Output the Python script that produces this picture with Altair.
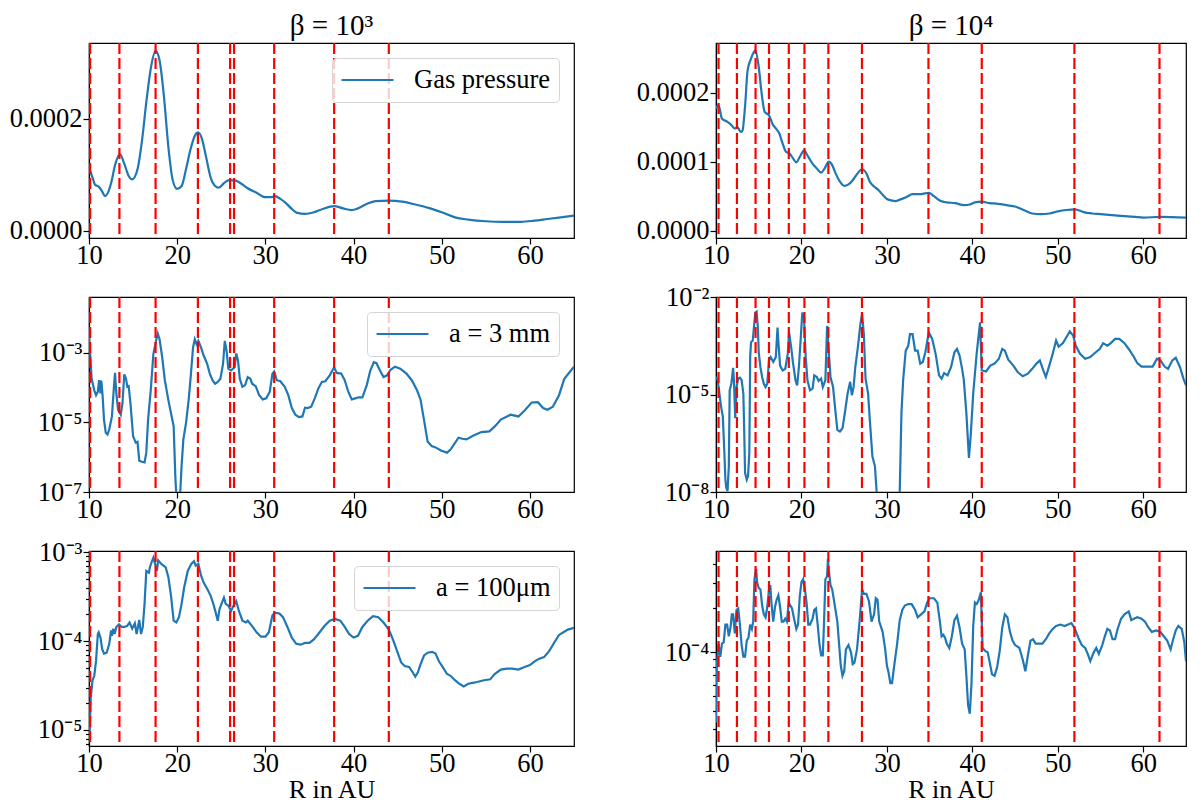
import altair as alt
import pandas as pd

BLUE = "#1f77b4"
FONT = "Liberation Serif"

# vertical dashed lines (R in AU)
VL_LEFT = [10.13, 13.45, 17.55, 22.35, 26.0, 26.45, 31.0, 37.8, 44.0]
VL_RIGHT = [10.3, 12.45, 14.63, 16.2, 18.52, 20.35, 23.15, 27.08, 34.86, 41.1, 51.94, 61.9]

X_TICKS = [10, 20, 30, 40, 50, 60]

# Gas pressure, beta=1e3  (R, P in units of 1e-4)
GAS_B3 = [(10.0, 1.13), (10.4, 0.95), (10.7, 0.82), (11.1, 0.79), (11.5, 0.70), (11.8, 0.62),
          (12.2, 0.70), (12.5, 0.85), (13.0, 1.20), (13.5, 1.37), (14.0, 1.20), (14.5, 0.98),
          (14.9, 0.92), (15.5, 1.10), (16.0, 1.60), (16.5, 2.30), (17.0, 2.90), (17.55, 3.22),
          (18.0, 3.05), (18.5, 2.40), (19.0, 1.50), (19.5, 0.90), (20.0, 0.75), (20.5, 0.80),
          (21.0, 1.10), (21.5, 1.45), (22.0, 1.70), (22.35, 1.76), (22.8, 1.65), (23.3, 1.30),
          (23.8, 0.95), (24.3, 0.80), (24.7, 0.77), (25.3, 0.85), (25.8, 0.90), (26.5, 0.90),
          (27.2, 0.85), (27.9, 0.77), (29.0, 0.68), (30.0, 0.60), (30.6, 0.60), (31.1, 0.62),
          (31.7, 0.57), (32.3, 0.50), (33.0, 0.39), (33.6, 0.32), (34.5, 0.30), (35.5, 0.33),
          (36.5, 0.39), (37.8, 0.44), (38.8, 0.40), (39.8, 0.37), (40.5, 0.40), (41.5, 0.48),
          (42.5, 0.53), (44.0, 0.54), (45.5, 0.52), (47.0, 0.47), (48.5, 0.41), (50.0, 0.33),
          (51.5, 0.24), (53.0, 0.20), (55.0, 0.17), (57.0, 0.16), (59.0, 0.16), (60.5, 0.18),
          (62.0, 0.21), (63.5, 0.24), (65.0, 0.27)]

# Gas pressure, beta=1e4  (R, P in units of 1e-4)
GAS_B4 = [(10.0, 1.77), (10.3, 1.82), (10.7, 1.62), (11.3, 1.58), (11.8, 1.53), (12.2, 1.48),
          (12.5, 1.50), (12.9, 1.43), (13.1, 1.45), (13.4, 1.80), (13.7, 2.32), (14.1, 2.49),
          (14.6, 2.61), (15.0, 2.37), (15.3, 2.03), (15.7, 1.72), (16.2, 1.67), (16.6, 1.55),
          (17.0, 1.48), (17.4, 1.41), (17.8, 1.26), (18.2, 1.14), (18.6, 1.12), (19.0, 1.05),
          (19.4, 0.99), (19.8, 1.07), (20.3, 1.16), (20.8, 1.07), (21.3, 0.97), (21.8, 0.90),
          (22.3, 0.84), (22.7, 0.90), (23.2, 1.00), (23.6, 0.95), (24.0, 0.83), (24.5, 0.71),
          (25.0, 0.65), (25.5, 0.67), (26.0, 0.73), (26.5, 0.82), (27.1, 0.89), (27.6, 0.83),
          (28.0, 0.71), (28.5, 0.64), (29.0, 0.59), (29.5, 0.52), (30.0, 0.46), (30.5, 0.44),
          (31.0, 0.43), (31.5, 0.45), (32.3, 0.49), (33.0, 0.53), (34.0, 0.53), (34.9, 0.55),
          (35.5, 0.50), (36.3, 0.43), (37.0, 0.41), (38.0, 0.40), (39.0, 0.37), (39.7, 0.38),
          (40.3, 0.41), (41.1, 0.42), (42.0, 0.40), (43.0, 0.39), (44.0, 0.37), (45.0, 0.35),
          (46.0, 0.30), (47.0, 0.25), (48.0, 0.24), (49.0, 0.25), (50.0, 0.28), (51.0, 0.30),
          (52.0, 0.31), (53.0, 0.27), (54.0, 0.25), (55.0, 0.24), (57.0, 0.22), (59.0, 0.20),
          (60.0, 0.19), (62.0, 0.20), (65.0, 0.19)]

# a = 3 mm, beta=1e3  (R, log10 value)
MM3_B3 = [(10.0, -2.47), (10.1, -2.9), (10.3, -3.75), (10.6, -4.08), (10.8, -4.22), (11.0, -4.12),
          (11.15, -3.79), (11.3, -4.17), (11.4, -3.8), (11.55, -4.26), (11.7, -4.92), (11.9, -5.30),
          (12.1, -5.35), (12.3, -5.2), (12.6, -4.83), (12.8, -4.08), (12.95, -3.58), (13.1, -4.17),
          (13.3, -4.64), (13.6, -4.78), (13.8, -4.45), (14.0, -3.62), (14.2, -3.75), (14.35, -3.98),
          (14.5, -3.96), (14.7, -4.45), (15.0, -5.40), (15.3, -5.58), (15.5, -5.56), (15.7, -6.10),
          (16.0, -6.13), (16.3, -6.15), (16.5, -5.87), (16.7, -4.92), (17.0, -4.08), (17.3, -3.04),
          (17.6, -2.66), (17.8, -2.45), (18.0, -2.61), (18.3, -3.13), (18.6, -3.79), (19.0, -4.36),
          (19.3, -4.74), (19.6, -5.11), (19.7, -5.87), (19.8, -6.62), (19.95, -7.3), (20.2, -7.4),
          (20.35, -7.0), (20.5, -6.25), (20.7, -5.49), (21.0, -5.02), (21.3, -4.36), (21.5, -3.79),
          (21.8, -2.85), (22.0, -2.61), (22.2, -2.75), (22.4, -2.66), (22.7, -2.85), (23.0, -3.08),
          (23.4, -3.32), (23.7, -3.60), (24.0, -3.79), (24.3, -3.89), (24.6, -3.84), (24.9, -3.75),
          (25.2, -3.32), (25.4, -2.66), (25.6, -2.94), (25.8, -3.46), (26.1, -3.51), (26.5, -3.42),
          (26.7, -3.02), (26.9, -3.23), (27.1, -3.75), (27.4, -3.98), (27.7, -3.93), (28.0, -3.70),
          (28.3, -3.75), (28.5, -3.89), (28.9, -3.96), (29.3, -4.22), (29.7, -4.34), (30.1, -4.31),
          (30.5, -4.12), (30.8, -3.60), (31.0, -3.54), (31.3, -3.79), (31.7, -3.82), (32.2, -3.98),
          (32.6, -4.22), (33.0, -4.59), (33.4, -4.78), (33.8, -4.85), (34.2, -4.83), (34.5, -4.58),
          (34.8, -4.59), (35.2, -4.55), (35.6, -4.31), (36.0, -4.03), (36.4, -3.84), (36.8, -3.82),
          (37.3, -3.65), (37.8, -3.42), (38.1, -3.58), (38.6, -3.60), (39.0, -3.79), (39.4, -4.12),
          (39.8, -4.34), (40.2, -4.31), (40.6, -4.28), (41.0, -4.28), (41.5, -3.93), (41.9, -3.51),
          (42.3, -3.27), (42.6, -3.30), (43.0, -3.51), (43.4, -3.70), (43.8, -3.65), (44.2, -3.49),
          (44.7, -3.40), (45.3, -3.46), (46.0, -3.60), (46.6, -3.79), (47.2, -4.08), (47.6, -4.35),
          (47.95, -4.87), (48.4, -5.55), (48.85, -5.68), (49.3, -5.72), (49.9, -5.81), (50.6, -5.87),
          (51.0, -5.78), (51.9, -5.44), (52.35, -5.47), (52.8, -5.49), (53.6, -5.38), (54.5, -5.28),
          (55.4, -5.26), (56.05, -5.11), (56.7, -4.92), (57.8, -4.78), (58.7, -4.83), (59.4, -4.66),
          (60.2, -4.43), (60.9, -4.42), (61.5, -4.59), (62.0, -4.64), (62.6, -4.55), (63.3, -4.22),
          (63.9, -3.75), (65.0, -3.40)]

# a = 3 mm, beta=1e4  (R, log10 value)
MM3_B4 = [(10.0, -4.46), (10.2, -4.56), (10.4, -4.97), (10.6, -5.38), (10.8, -5.68), (10.95, -6.60),
          (11.1, -7.62), (11.2, -7.87), (11.35, -7.97), (11.5, -7.21), (11.6, -4.87), (11.8, -4.67),
          (12.0, -4.18), (12.1, -4.56), (12.25, -5.73), (12.4, -4.77), (12.6, -4.51), (12.8, -4.48),
          (13.0, -4.56), (13.2, -4.97), (13.3, -6.09), (13.4, -7.41), (13.6, -7.62), (13.75, -7.51),
          (13.9, -6.80), (14.0, -3.85), (14.1, -3.39), (14.3, -3.34), (14.4, -3.04), (14.6, -2.48),
          (14.75, -2.45), (14.9, -2.94), (15.0, -3.70), (15.2, -4.16), (15.4, -4.46), (15.6, -4.67),
          (15.8, -4.77), (16.0, -4.67), (16.2, -3.95), (16.4, -3.85), (16.7, -4.00), (17.0, -3.85),
          (17.2, -2.94), (17.3, -3.39), (17.5, -4.11), (17.8, -4.26), (18.1, -4.21), (18.4, -3.75),
          (18.55, -3.09), (18.8, -3.55), (19.0, -4.00), (19.3, -4.56), (19.5, -4.72), (19.7, -4.16),
          (19.9, -3.34), (20.1, -2.48), (20.3, -2.63), (20.5, -3.85), (20.7, -4.56), (21.0, -4.87),
          (21.3, -4.82), (21.5, -4.41), (21.8, -4.46), (22.0, -4.58), (22.3, -4.51), (22.5, -4.77),
          (22.8, -4.56), (23.0, -2.89), (23.2, -3.70), (23.4, -4.46), (23.7, -4.77), (24.0, -5.58),
          (24.2, -6.09), (24.5, -6.14), (24.8, -6.04), (25.1, -5.53), (25.4, -4.97), (25.7, -4.61),
          (25.9, -5.02), (26.1, -4.77), (26.3, -4.16), (26.6, -3.55), (26.9, -2.83), (27.1, -2.53),
          (27.3, -3.14), (27.5, -4.51), (27.8, -4.97), (28.0, -5.78), (28.3, -6.90), (28.6, -7.21),
          (28.8, -8.0), (29.2, -9.0), (30.0, -10.0), (31.0, -9.5), (31.5, -8.0), (31.7, -5.58),
          (31.9, -4.56), (32.2, -3.65), (32.5, -3.50), (32.7, -3.14), (33.0, -3.14), (33.3, -3.65),
          (33.6, -3.65), (33.9, -4.05), (34.2, -4.00), (34.5, -3.70), (34.9, -3.09), (35.3, -3.29),
          (35.7, -3.75), (36.1, -4.41), (36.4, -4.51), (36.7, -4.34), (37.1, -4.41), (37.5, -4.16),
          (37.9, -3.70), (38.2, -3.60), (38.5, -3.80), (38.8, -4.21), (39.0, -4.56), (39.3, -5.58),
          (39.6, -6.95), (39.8, -6.29), (40.1, -4.97), (40.5, -3.75), (40.9, -2.78), (41.1, -4.26),
          (41.6, -4.29), (42.1, -4.11), (42.6, -4.05), (43.1, -3.90), (43.5, -3.60), (43.8, -3.65),
          (44.2, -3.93), (44.8, -4.11), (45.3, -4.31), (45.9, -4.44), (46.5, -4.36), (47.0, -4.21),
          (47.5, -4.05), (47.9, -3.95), (48.3, -4.26), (48.6, -4.46), (49.0, -4.11), (49.4, -3.75),
          (49.8, -3.34), (50.1, -3.53), (50.6, -3.42), (51.0, -3.24), (51.4, -3.06), (51.8, -3.19),
          (52.1, -3.50), (52.6, -3.75), (53.2, -3.90), (53.8, -3.85), (54.3, -3.73), (54.9, -3.60),
          (55.3, -3.42), (55.8, -3.50), (56.2, -3.42), (56.7, -3.29), (57.2, -3.29), (57.8, -3.42),
          (58.3, -3.60), (58.8, -3.80), (59.3, -4.03), (59.8, -4.14), (60.4, -4.14), (61.1, -4.14),
          (61.6, -3.90), (62.0, -3.95), (62.5, -4.14), (62.9, -4.21), (63.4, -3.95), (63.8, -3.87),
          (64.3, -4.16), (64.7, -4.51), (65.0, -4.72)]

# a = 100 um, beta=1e3  (R, log10 value)
UM100_B3 = [(10.05, -5.12), (10.2, -4.63), (10.4, -4.44), (10.6, -4.39), (10.8, -4.22), (11.0, -3.92),
            (11.1, -3.90), (11.3, -3.96), (11.5, -4.09), (11.7, -4.14), (12.0, -4.13), (12.3, -4.03),
            (12.5, -3.88), (12.6, -3.94), (12.75, -3.86), (12.9, -3.92), (13.1, -3.84), (13.4, -3.81),
            (13.7, -3.84), (14.0, -3.84), (14.3, -3.83), (14.6, -3.79), (14.9, -3.86), (15.2, -3.80),
            (15.4, -3.92), (15.7, -3.76), (15.9, -3.92), (16.1, -3.84), (16.3, -3.58), (16.5, -3.21),
            (16.8, -3.23), (16.9, -3.17), (17.1, -3.11), (17.3, -3.06), (17.5, -3.13), (17.7, -3.21),
            (17.85, -3.09), (18.2, -3.13), (18.7, -3.17), (19.0, -3.28), (19.3, -3.49), (19.6, -3.77),
            (19.9, -3.79), (20.2, -3.73), (20.5, -3.58), (20.8, -3.39), (21.2, -3.21), (21.6, -3.13),
            (21.9, -3.10), (22.1, -3.15), (22.4, -3.13), (22.7, -3.26), (23.0, -3.34), (23.4, -3.41),
            (23.8, -3.49), (24.1, -3.58), (24.4, -3.69), (24.6, -3.77), (24.8, -3.64), (25.1, -3.56),
            (25.3, -3.51), (25.5, -3.58), (25.8, -3.60), (26.1, -3.66), (26.4, -3.60), (26.7, -3.55),
            (27.0, -3.66), (27.4, -3.77), (27.8, -3.79), (28.0, -3.77), (28.5, -3.83), (29.0, -3.90),
            (29.5, -3.95), (30.0, -3.95), (30.4, -3.90), (30.8, -3.71), (31.1, -3.68), (31.6, -3.69),
            (32.0, -3.73), (32.5, -3.84), (33.0, -3.96), (33.5, -4.03), (34.0, -4.04), (34.5, -4.02),
            (35.0, -4.02), (35.5, -3.98), (36.0, -3.92), (36.7, -3.83), (37.3, -3.77), (37.9, -3.75),
            (38.5, -3.77), (39.0, -3.84), (39.5, -3.92), (40.0, -3.96), (40.5, -3.94), (41.0, -3.84),
            (41.6, -3.77), (42.2, -3.72), (42.8, -3.73), (43.4, -3.79), (44.0, -3.87), (44.5, -3.99),
            (45.0, -4.13), (45.4, -4.24), (45.8, -4.28), (46.3, -4.29), (46.7, -4.35), (47.0, -4.40),
            (47.3, -4.35), (47.6, -4.26), (48.0, -4.16), (48.4, -4.13), (48.9, -4.12), (49.3, -4.14),
            (49.7, -4.23), (50.1, -4.29), (50.6, -4.37), (51.0, -4.39), (51.5, -4.44), (52.0, -4.48),
            (52.5, -4.51), (53.0, -4.48), (53.5, -4.47), (54.0, -4.46), (54.8, -4.44), (55.5, -4.43),
            (56.0, -4.37), (56.7, -4.32), (57.4, -4.31), (58.0, -4.31), (58.7, -4.32), (59.4, -4.29),
            (60.0, -4.27), (60.5, -4.23), (61.0, -4.20), (61.6, -4.18), (62.2, -4.11), (62.8, -4.01),
            (63.3, -3.93), (63.8, -3.90), (64.3, -3.87), (65.0, -3.85)]

# a = 100 um, beta=1e4  (R, log10 value)
UM100_B4 = [(10.0, -4.48), (10.1, -4.09), (10.3, -3.94), (10.5, -4.03), (10.7, -3.94), (10.9, -3.93),
            (11.1, -3.81), (11.3, -3.81), (11.5, -3.89), (11.7, -3.83), (11.85, -3.74), (12.0, -3.74),
            (12.2, -3.87), (12.4, -3.71), (12.6, -3.70), (12.8, -3.81), (13.0, -3.95), (13.2, -4.03),
            (13.4, -4.03), (13.6, -3.92), (13.8, -3.90), (14.0, -3.81), (14.2, -3.84), (14.35, -3.79),
            (14.5, -3.50), (14.7, -3.43), (14.8, -3.52), (15.0, -3.56), (15.2, -3.57), (15.4, -3.68),
            (15.6, -3.74), (15.8, -3.76), (16.0, -3.69), (16.2, -3.57), (16.35, -3.54), (16.5, -3.67),
            (16.7, -3.79), (16.9, -3.69), (17.1, -3.64), (17.3, -3.61), (17.5, -3.69), (17.7, -3.79),
            (17.9, -3.79), (18.1, -3.77), (18.3, -3.79), (18.5, -3.66), (18.7, -3.68), (18.9, -3.70),
            (19.1, -3.76), (19.4, -3.84), (19.6, -3.81), (19.8, -3.62), (20.0, -3.52), (20.2, -3.50),
            (20.4, -3.57), (20.6, -3.66), (20.8, -3.81), (21.0, -3.81), (21.3, -3.77), (21.5, -3.71),
            (21.7, -3.70), (21.9, -3.81), (22.1, -3.94), (22.3, -4.02), (22.5, -4.02), (22.65, -3.78),
            (22.8, -3.50), (23.0, -3.48), (23.1, -3.36), (23.2, -3.44), (23.4, -3.54), (23.6, -3.57),
            (23.9, -3.68), (24.2, -3.79), (24.4, -3.94), (24.6, -4.09), (24.8, -4.16), (25.0, -4.13),
            (25.2, -3.98), (25.5, -3.95), (25.8, -4.00), (26.0, -4.08), (26.2, -4.07), (26.5, -3.98),
            (26.8, -3.79), (27.1, -3.57), (27.3, -3.60), (27.6, -3.60), (27.9, -3.65), (28.2, -3.79),
            (28.5, -3.74), (28.7, -3.63), (28.9, -3.64), (29.1, -3.79), (29.5, -3.86), (29.8, -3.98),
            (30.0, -4.09), (30.2, -4.14), (30.4, -4.21), (30.6, -4.21), (30.9, -4.07), (31.2, -3.94),
            (31.5, -3.78), (31.8, -3.71), (32.1, -3.68), (32.5, -3.67), (32.9, -3.67), (33.3, -3.71),
            (33.6, -3.76), (34.0, -3.74), (34.4, -3.72), (34.7, -3.66), (35.0, -3.63), (35.5, -3.63),
            (35.9, -3.66), (36.2, -3.79), (36.4, -3.89), (36.6, -3.88), (36.8, -3.90), (37.0, -3.94),
            (37.3, -3.97), (37.6, -3.89), (37.9, -3.78), (38.2, -3.75), (38.5, -3.83), (38.8, -3.94),
            (39.1, -3.98), (39.3, -4.16), (39.5, -4.36), (39.7, -4.42), (39.9, -4.21), (40.1, -3.82),
            (40.3, -3.66), (40.5, -3.67), (40.7, -3.65), (41.0, -3.59), (41.2, -3.97), (41.5, -3.99),
            (41.8, -4.00), (42.0, -4.06), (42.3, -4.15), (42.6, -4.16), (42.9, -4.10), (43.2, -3.99),
            (43.5, -3.83), (43.8, -3.74), (44.1, -3.76), (44.4, -3.86), (44.7, -3.92), (45.0, -3.95),
            (45.5, -3.97), (45.9, -4.05), (46.2, -4.13), (46.5, -4.02), (46.8, -3.92), (47.1, -3.91),
            (47.4, -3.94), (47.8, -3.94), (48.2, -3.94), (48.6, -3.91), (49.0, -3.87), (49.4, -3.84),
            (49.8, -3.82), (50.3, -3.81), (50.8, -3.82), (51.2, -3.81), (51.6, -3.80), (52.0, -3.84),
            (52.4, -3.90), (52.8, -3.95), (53.2, -3.97), (53.5, -4.01), (53.8, -4.06), (54.2, -4.00),
            (54.5, -3.97), (54.8, -4.01), (55.2, -3.95), (55.5, -3.89), (55.8, -3.84), (56.1, -3.85),
            (56.4, -3.91), (56.7, -3.91), (57.0, -3.84), (57.4, -3.77), (57.8, -3.74), (58.3, -3.72),
            (58.6, -3.78), (58.9, -3.77), (59.3, -3.76), (59.8, -3.77), (60.2, -3.79), (60.6, -3.83),
            (61.0, -3.86), (61.5, -3.85), (62.0, -3.86), (62.4, -3.89), (62.8, -3.92), (63.2, -3.98),
            (63.5, -3.91), (63.8, -3.85), (64.1, -3.82), (64.5, -3.84), (64.8, -3.93), (65.0, -4.06)]

# axis tick values
LIN_TICKS_B3 = [0.0, 0.0002]
LIN_TICKS_B4 = [0.0, 0.0001, 0.0002]
LOG_TICKS_MM3_B3 = [1e-7, 1e-5, 1e-3]
LOG_TICKS_MM3_B4 = [1e-8, 1e-5, 1e-2]
LOG_MAJOR_UM_B3 = [1e-5, 1e-4, 1e-3]
LOG_TICKS_UM_B3 = [7e-6, 8e-6, 9e-6, 1e-5, 2e-5, 3e-5, 4e-5, 5e-5, 6e-5, 7e-5, 8e-5, 9e-5,
                   1e-4, 2e-4, 3e-4, 4e-4, 5e-4, 6e-4, 7e-4, 8e-4, 9e-4, 1e-3]
LOG_MAJOR_UM_B4 = [1e-4]
LOG_TICKS_UM_B4 = [3e-5, 4e-5, 5e-5, 6e-5, 7e-5, 8e-5, 9e-5, 1e-4, 2e-4, 3e-4, 4e-4]

SUP = "['⁰','¹','²','³','⁴','⁵','⁶','⁷','⁸','⁹']"
LABEL_SIZE = 26.5
PANEL_H = 195


def arr(vals):
    return "[" + ",".join(repr(v) for v in vals) + "]"


def log_label_expr(majors):
    return (f"indexof({arr(majors)}, datum.value) >= 0 ? "
            f"'10⁻' + {SUP}[round(-log(datum.value)/LN10)] : ''")


def make_df(pairs, log=False, unit=1.0, label="s"):
    xs = [p[0] for p in pairs]
    if log:
        ys = [10 ** p[1] for p in pairs]
    else:
        ys = [p[1] * unit for p in pairs]
    return pd.DataFrame({"x": xs, "y": ys, "s": label})


def panel(df, vlines, width, ydomain, yaxis, ylog=False, legend_label=None,
          title=None, xtitle=None, interp="linear"):
    xscale = alt.Scale(domain=[10, 65], nice=False, zero=False)
    if ylog:
        yscale = alt.Scale(type="log", domain=ydomain, nice=False)
    else:
        yscale = alt.Scale(domain=ydomain, nice=False, zero=False)
    if xtitle:
        xaxis = alt.Axis(values=X_TICKS, title=xtitle, format="d", labelPadding=-2, titlePadding=0)
    else:
        xaxis = alt.Axis(values=X_TICKS, title=None, format="d", labelPadding=-2)
    enc = dict(
        x=alt.X("x:Q", scale=xscale, axis=xaxis),
        y=alt.Y("y:Q", scale=yscale, axis=yaxis),
    )
    line = alt.Chart(df).mark_line(clip=True, strokeWidth=2.2, interpolate=interp, color=BLUE)
    if legend_label:
        enc["color"] = alt.Color(
            "s:N",
            scale=alt.Scale(domain=[legend_label], range=[BLUE]),
            legend=alt.Legend(title=None, orient="top-right"),
        )
    line = line.encode(**enc)
    rules = alt.Chart(pd.DataFrame({"x": vlines})).mark_rule(
        color="#ff0000", strokeDash=[11, 4], strokeWidth=2.2
    ).encode(x=alt.X("x:Q", scale=xscale, axis=xaxis))
    props = dict(width=width, height=PANEL_H)
    if title:
        props["title"] = alt.TitleParams(text=title, font=FONT, fontSize=29,
                                         fontWeight="normal", anchor="middle",
                                         offset=1, color="black")
    return alt.layer(line, rules).properties(**props)


WL, WR = 485, 470

pA = panel(make_df(GAS_B3, unit=1e-4, label="Gas pressure"), VL_LEFT, WL,
           [-0.000013, 0.000336],
           alt.Axis(values=LIN_TICKS_B3, format=".4f", title=None, labelOverlap=False),
           legend_label="Gas pressure", title="β = 10³", interp="monotone")
pB = panel(make_df(GAS_B4, unit=1e-4), VL_RIGHT, WR,
           [-0.0000105, 0.0002717],
           alt.Axis(values=LIN_TICKS_B4, format=".4f", title=None, labelOverlap=False),
           title="β = 10⁴", interp="monotone")
pC = panel(make_df(MM3_B3, log=True, label="a = 3 mm"), VL_LEFT, WL,
           [1e-7, 0.0398],
           alt.Axis(values=LOG_TICKS_MM3_B3, title=None, labelOverlap=False,
                    labelExpr=log_label_expr(LOG_TICKS_MM3_B3)),
           ylog=True, legend_label="a = 3 mm")
pD = panel(make_df(MM3_B4, log=True), VL_RIGHT, WR,
           [1e-8, 1e-2],
           alt.Axis(values=LOG_TICKS_MM3_B4, title=None, labelOverlap=False,
                    labelExpr=log_label_expr(LOG_TICKS_MM3_B4)),
           ylog=True)
pE = panel(make_df(UM100_B3, log=True, label="a = 100μm"), VL_LEFT, WL,
           [6.6e-6, 1.035e-3],
           alt.Axis(values=LOG_TICKS_UM_B3, title=None, labelOverlap=False,
                    labelExpr=log_label_expr(LOG_MAJOR_UM_B3),
                    tickSize={"condition": {"test": f"indexof({arr(LOG_MAJOR_UM_B3)}, datum.value) >= 0",
                                            "value": 6}, "value": 3.5}),
           ylog=True, legend_label="a = 100μm", xtitle="R in AU")
pF = panel(make_df(UM100_B4, log=True), VL_RIGHT, WR,
           [2.29e-5, 4.93e-4],
           alt.Axis(values=LOG_TICKS_UM_B4, title=None, labelOverlap=False,
                    labelExpr=log_label_expr(LOG_MAJOR_UM_B4),
                    tickSize={"condition": {"test": f"indexof({arr(LOG_MAJOR_UM_B4)}, datum.value) >= 0",
                                            "value": 6}, "value": 3.5}),
           ylog=True, xtitle="R in AU")

chart = alt.concat(
    pA, pB, pC, pD, pE, pF, columns=2,
    spacing={"row": 59, "column": 142}, bounds="flush",
).resolve_scale(
    x="independent", y="independent", color="independent"
).properties(
    padding={"left": 0, "top": 3, "right": 5, "bottom": 0}
).configure_view(
    stroke="black", strokeWidth=1.2
).configure_axis(
    labelFont=FONT, labelFontSize=LABEL_SIZE, labelColor="black", tickColor="black",
    domainColor="black", domainWidth=1.2, tickWidth=1.2, tickSize=6, labelPadding=1,
    grid=False, titleFont=FONT, titleFontSize=26, titleFontWeight="normal",
    titleColor="black", titlePadding=0, labelFlush=False,
).configure_legend(
    labelFont=FONT, labelFontSize=LABEL_SIZE, labelColor="black", symbolType="stroke",
    symbolSize=2700, symbolStrokeWidth=2.2, padding=8, strokeColor="#d4d4d4",
    fillColor="rgba(255,255,255,0.8)", cornerRadius=4, offset=15, labelOffset=19,
    symbolStrokeColor=BLUE, clipHeight=28,
)

chart.save("out.html", embed_options={"renderer": "svg", "actions": False})
